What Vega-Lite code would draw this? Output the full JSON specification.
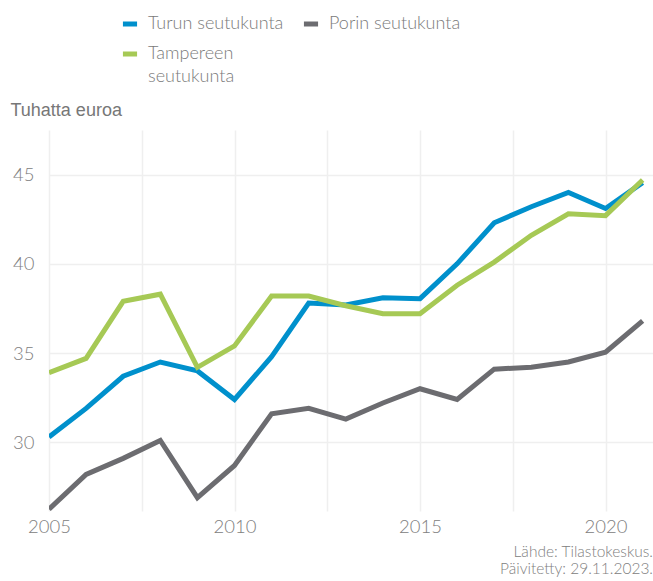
{
  "$schema": "https://vega.github.io/schema/vega-lite/v6.json",
  "width": 604,
  "height": 381,
  "autosize": {"type": "none"},
  "padding": {"left": 49, "top": 130, "right": 0, "bottom": 70},
  "background": "white",
  "title": {
    "text": ["Lähde: Tilastokeskus.", "Päivitetty: 29.11.2023."],
    "orient": "bottom",
    "anchor": "end",
    "font": "Lato",
    "fontSize": 15.5,
    "fontWeight": 300,
    "color": "#808080",
    "lineHeight": 17,
    "offset": 9
  },
  "config": {
    "view": {"stroke": null},
    "style": {"guide-label": {"lineHeight": 23}},
    "axis": {"labelFont": "Lato", "labelFontSize": 18.5, "labelFontWeight": 300, "labelColor": "#808080", "gridColor": "#efefef", "gridWidth": 1.5, "domain": false, "ticks": false}
  },
  "data": {
    "values": [
      {"year": 2005, "region": "Turun seutukunta", "value": 30.3},
      {"year": 2006, "region": "Turun seutukunta", "value": 31.9},
      {"year": 2007, "region": "Turun seutukunta", "value": 33.7},
      {"year": 2008, "region": "Turun seutukunta", "value": 34.5},
      {"year": 2009, "region": "Turun seutukunta", "value": 34.0},
      {"year": 2010, "region": "Turun seutukunta", "value": 32.4},
      {"year": 2011, "region": "Turun seutukunta", "value": 34.8},
      {"year": 2012, "region": "Turun seutukunta", "value": 37.8},
      {"year": 2013, "region": "Turun seutukunta", "value": 37.7},
      {"year": 2014, "region": "Turun seutukunta", "value": 38.1},
      {"year": 2015, "region": "Turun seutukunta", "value": 38.05},
      {"year": 2016, "region": "Turun seutukunta", "value": 40.0},
      {"year": 2017, "region": "Turun seutukunta", "value": 42.3},
      {"year": 2018, "region": "Turun seutukunta", "value": 43.2},
      {"year": 2019, "region": "Turun seutukunta", "value": 44.0},
      {"year": 2020, "region": "Turun seutukunta", "value": 43.1},
      {"year": 2021, "region": "Turun seutukunta", "value": 44.55},
      {"year": 2005, "region": "Porin seutukunta", "value": 26.25},
      {"year": 2006, "region": "Porin seutukunta", "value": 28.2},
      {"year": 2007, "region": "Porin seutukunta", "value": 29.1},
      {"year": 2008, "region": "Porin seutukunta", "value": 30.1},
      {"year": 2009, "region": "Porin seutukunta", "value": 26.9},
      {"year": 2010, "region": "Porin seutukunta", "value": 28.7},
      {"year": 2011, "region": "Porin seutukunta", "value": 31.6},
      {"year": 2012, "region": "Porin seutukunta", "value": 31.9},
      {"year": 2013, "region": "Porin seutukunta", "value": 31.3},
      {"year": 2014, "region": "Porin seutukunta", "value": 32.2},
      {"year": 2015, "region": "Porin seutukunta", "value": 33.0},
      {"year": 2016, "region": "Porin seutukunta", "value": 32.4},
      {"year": 2017, "region": "Porin seutukunta", "value": 34.1},
      {"year": 2018, "region": "Porin seutukunta", "value": 34.2},
      {"year": 2019, "region": "Porin seutukunta", "value": 34.5},
      {"year": 2020, "region": "Porin seutukunta", "value": 35.05},
      {"year": 2021, "region": "Porin seutukunta", "value": 36.8},
      {"year": 2005, "region": "Tampereen seutukunta", "value": 33.9},
      {"year": 2006, "region": "Tampereen seutukunta", "value": 34.7},
      {"year": 2007, "region": "Tampereen seutukunta", "value": 37.9},
      {"year": 2008, "region": "Tampereen seutukunta", "value": 38.3},
      {"year": 2009, "region": "Tampereen seutukunta", "value": 34.2},
      {"year": 2010, "region": "Tampereen seutukunta", "value": 35.4},
      {"year": 2011, "region": "Tampereen seutukunta", "value": 38.2},
      {"year": 2012, "region": "Tampereen seutukunta", "value": 38.2},
      {"year": 2013, "region": "Tampereen seutukunta", "value": 37.65},
      {"year": 2014, "region": "Tampereen seutukunta", "value": 37.2},
      {"year": 2015, "region": "Tampereen seutukunta", "value": 37.2},
      {"year": 2016, "region": "Tampereen seutukunta", "value": 38.8},
      {"year": 2017, "region": "Tampereen seutukunta", "value": 40.1},
      {"year": 2018, "region": "Tampereen seutukunta", "value": 41.6},
      {"year": 2019, "region": "Tampereen seutukunta", "value": 42.8},
      {"year": 2020, "region": "Tampereen seutukunta", "value": 42.7},
      {"year": 2021, "region": "Tampereen seutukunta", "value": 44.7}
    ]
  },
  "mark": {"type": "line", "strokeWidth": 5, "clip": true, "strokeJoin": "miter", "strokeCap": "butt"},
  "encoding": {
    "x": {
      "field": "year",
      "type": "quantitative",
      "scale": {"domain": [2005, 2021.28], "nice": false, "zero": false},
      "axis": {
        "title": null,
        "values": [2005, 2007.5, 2010, 2012.5, 2015, 2017.5, 2020],
        "labelExpr": "datum.value % 5 == 0 ? datum.value : ''",
        "labelPadding": 6,
        "labelFlush": false
      }
    },
    "y": {
      "field": "value",
      "type": "quantitative",
      "scale": {"domain": [26.15, 47.5], "nice": false, "zero": false},
      "axis": {
        "title": "Tuhatta euroa",
        "values": [30, 35, 40, 45],
        "labelPadding": 15,
        "titleAngle": 0,
        "titleAlign": "left",
        "titleBaseline": "alphabetic",
        "titleX": -39,
        "titleY": -15,
        "titleFont": "Liberation Sans",
        "titleFontSize": 18,
        "titleFontWeight": "normal",
        "titleColor": "#777777"
      }
    },
    "color": {
      "field": "region",
      "type": "nominal",
      "scale": {
        "domain": ["Turun seutukunta", "Porin seutukunta", "Tampereen seutukunta"],
        "range": ["#0090cc", "#6c6c70", "#a6c955"]
      },
      "legend": {
        "title": null,
        "orient": "none",
        "legendX": 71,
        "legendY": -116,
        "direction": "horizontal",
        "columns": 2,
        "symbolType": "stroke",
        "symbolStrokeWidth": 5,
        "symbolSize": 200,
        "labelFont": "Lato",
        "labelFontSize": 18,
        "labelFontWeight": 300,
        "labelColor": "#7a7a7a",
        "labelLimit": 300,
        "labelOffset": 8,
        "columnPadding": 9,
        "rowPadding": 10,
        "labelExpr": "datum.label == 'Tampereen seutukunta' ? ['Tampereen', 'seutukunta'] : datum.label"
      }
    }
  }
}
